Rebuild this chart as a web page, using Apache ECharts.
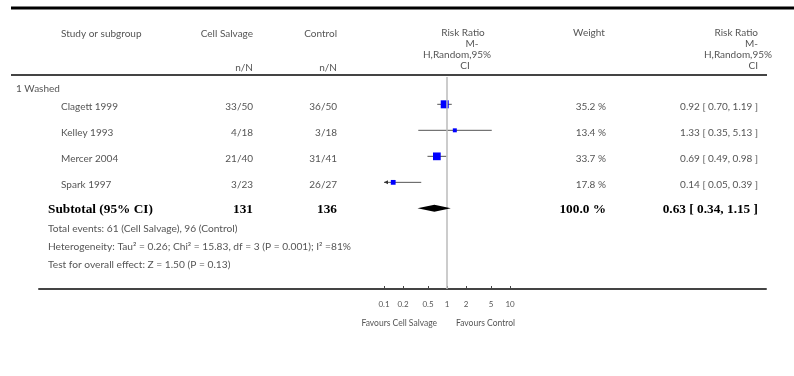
<!DOCTYPE html>
<html><head><meta charset="utf-8">
<script src="https://cdn.jsdelivr.net/npm/echarts@6/dist/echarts.min.js"></script>
<style>html,body{margin:0;padding:0;background:#fff}#c{width:794px;height:376px}</style>
</head><body><div id="c"></div>
<script>
// ---- data ----
const groupLabel = '1 Washed';
const studies = ['Clagett 1999', 'Kelley 1993', 'Mercer 2004', 'Spark 1997'];
const cellSalvage = ['33/50', '4/18', '21/40', '3/23'];
const control = ['36/50', '3/18', '31/41', '26/27'];
const rr = [0.92, 1.33, 0.69, 0.14];
const ciLow = [0.70, 0.35, 0.49, 0.05];
const ciHigh = [1.19, 5.13, 0.98, 0.39];
const weights = [35.2, 13.4, 33.7, 17.8];
const subtotalRR = 0.63, subtotalLow = 0.34, subtotalHigh = 1.15;
const subtotalN = ['131', '136'];
const subtotalWeight = '100.0 %';
const tickValues = [0.1, 0.2, 0.5, 1, 2, 5, 10];
const tickLabels = ['0.1', '0.2', '0.5', '1', '2', '5', '10'];
const footnotes = [
  'Total events: 61 (Cell Salvage), 96 (Control)',
  'Heterogeneity: Tau\u00b2 = 0.26; Chi\u00b2 = 15.83, df = 3 (P = 0.001); I\u00b2 =81%',
  'Test for overall effect: Z = 1.50 (P = 0.13)'
];

// ---- chart ----
const L = v => Math.log10(v);
const FONT = 'Lato';
const SERIF = 'Liberation Serif';
const GRAY = '#555';
const fmt2 = v => v.toFixed(2);
const chart = echarts.init(document.getElementById('c'), null, {renderer: 'canvas'});

const rowOf = i => i + 1;
const subRow = studies.length + 1;
const tickLogs = tickValues.map(L);

const option = {
  animation: false,
  grid: {left: 39, right: 28, top: 77, bottom: 87},
  xAxis: {
    type: 'value', min: -6.476, max: 5.063, position: 'bottom',
    axisLine: {onZero: false, lineStyle: {color: '#444', width: 2}},
    axisTick: {show: true, inside: true, length: 3, customValues: tickLogs, lineStyle: {color: '#444', width: 1}},
    axisLabel: {
      customValues: tickLogs, margin: 11, color: GRAY, fontFamily: FONT, fontSize: 8,
      formatter: v => { let k = tickLogs.findIndex(t => Math.abs(t - v) < 1e-6); return k >= 0 ? tickLabels[k] : ''; }
    },
    splitLine: {show: false}
  },
  yAxis: {type: 'value', inverse: true, min: -0.05, max: 8.1, show: false},
  series: [
    {
      type: 'custom',
      data: studies.map((s, i) => [L(ciLow[i]), L(ciHigh[i]), rowOf(i)]),
      renderItem: (params, api) => {
        const lo = api.value(0), hi = api.value(1), row = api.value(2);
        const a = Math.max(lo, -1), b = Math.min(hi, 1);
        const p1 = api.coord([a, row]), p2 = api.coord([b, row]);
        const children = [{type: 'line', shape: {x1: p1[0], y1: p1[1], x2: p2[0], y2: p2[1]}, style: {stroke: '#555', lineWidth: 1}}];
        if (lo < -1) children.push({type: 'polygon', shape: {points: [[p1[0], p1[1]], [p1[0] + 4, p1[1] - 2], [p1[0] + 4, p1[1] + 2]]}, style: {fill: '#333'}});
        if (hi > 1) children.push({type: 'polygon', shape: {points: [[p2[0], p2[1]], [p2[0] - 4, p2[1] - 2], [p2[0] - 4, p2[1] + 2]]}, style: {fill: '#333'}});
        return {type: 'group', children};
      },
      z: 2
    },
    {
      type: 'scatter',
      data: studies.map((s, i) => ({value: [L(rr[i]), rowOf(i)], symbolSize: 1.5 + 0.185 * weights[i]})),
      symbol: 'rect',
      itemStyle: {color: '#0000ff', opacity: 1},
      z: 4,
      markLine: {
        silent: true, symbol: 'none', label: {show: false},
        lineStyle: {color: '#bbb', width: 1.5, type: 'solid'},
        data: [{xAxis: 0}]
      }
    },
    {
      type: 'custom',
      data: [[L(subtotalLow), L(subtotalRR), L(subtotalHigh), subRow]],
      renderItem: (params, api) => {
        const row = api.value(3);
        const pl = api.coord([api.value(0), row]), pc = api.coord([api.value(1), row]), pr = api.coord([api.value(2), row]);
        const h = 3.5;
        return {type: 'polygon', shape: {points: [[pl[0], pl[1]], [pc[0], pc[1] - h], [pr[0], pr[1]], [pc[0], pc[1] + h]]}, style: {fill: '#000'}};
      },
      z: 5
    }
  ]
};
chart.setOption(option);

const yPix = r => chart.convertToPixel({yAxisIndex: 0}, r);
const xPix = v => chart.convertToPixel({xAxisIndex: 0}, v);
const g = [];
const txt = (text, x, y, align, opts) => g.push({type: 'text', x, y, style: Object.assign({text, textAlign: align, textVerticalAlign: 'middle', fill: GRAY, font: '10px ' + FONT}, opts || {}), silent: true});
const hline = (x1, x2, y, w, color) => g.push({type: 'line', shape: {x1, y1: y, x2, y2: y}, style: {stroke: color, lineWidth: w}, silent: true});

hline(11, 794, 8, 3, '#000');
hline(11, 767, 75, 2, '#444');

// headers
txt('Study or subgroup', 61, 34, 'left');
txt('Cell Salvage', 253, 34, 'right');
txt('Control', 337, 34, 'right');
txt('n/N', 253, 68, 'right');
txt('n/N', 337, 68, 'right');
txt('Risk Ratio', 463, 33, 'center');
txt('M-', 472, 44, 'center');
txt('H,Random,95%', 457, 55, 'center');
txt('CI', 465, 66, 'center');
txt('Weight', 589, 33, 'center');
txt('Risk Ratio', 758, 33, 'right');
txt('M-', 758, 44, 'right');
txt('H,Random,95%', 772, 55, 'right');
txt('CI', 758, 66, 'right');

// rows
txt(groupLabel, 16, yPix(0) + 10, 'left');
studies.forEach((s, i) => {
  const y = yPix(rowOf(i)) + 2.5;
  txt(s, 61, y, 'left');
  txt(cellSalvage[i], 253, y, 'right');
  txt(control[i], 337, y, 'right');
  txt(weights[i].toFixed(1) + ' %', 606, y, 'right');
  txt(fmt2(rr[i]) + ' [ ' + fmt2(ciLow[i]) + ', ' + fmt2(ciHigh[i]) + ' ]', 758, y, 'right');
});
const ys = yPix(subRow) + 1.5;
const bold = {fill: '#000', font: 'bold 13.3px ' + SERIF};
txt('Subtotal (95% CI)', 48, ys, 'left', bold);
txt(subtotalN[0], 253, ys, 'right', bold);
txt(subtotalN[1], 337, ys, 'right', bold);
txt(subtotalWeight, 606, ys, 'right', bold);
txt(fmt2(subtotalRR) + ' [ ' + fmt2(subtotalLow) + ', ' + fmt2(subtotalHigh) + ' ]', 758, ys, 'right', bold);
footnotes.forEach((f, k) => txt(f, 48, ys + 19 + k * 18, 'left', {font: '10.2px ' + FONT}));

// favours labels
const x1 = xPix(0);
txt('Favours Cell Salvage', x1 - 10, 323, 'right', {font: '8.5px ' + FONT});
txt('Favours Control', x1 + 9, 323, 'left', {font: '8.5px ' + FONT});

chart.setOption({graphic: g});
</script></body></html>
